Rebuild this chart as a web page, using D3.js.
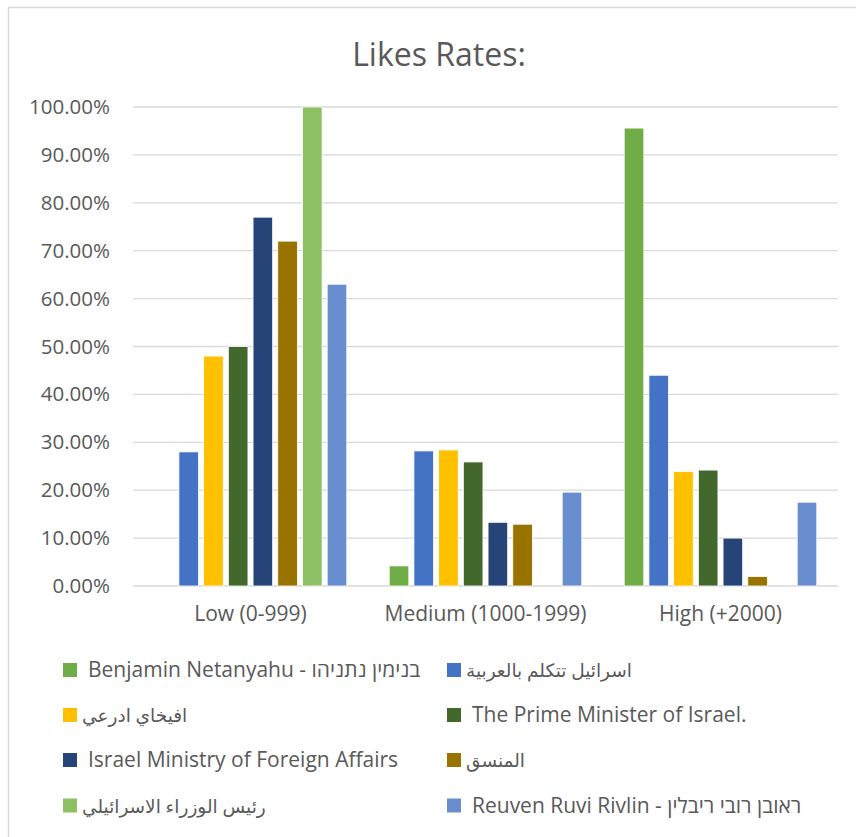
<!DOCTYPE html>
<html>
	<head>
		<meta charset="utf-8">
		<title>Likes Rates</title>
		<style>
			body { margin: 0; background: #fff; }
			text { font-family: "Open Sans", "DejaVu Sans", sans-serif; fill: #595959; }
		</style>
	</head>
	<body>
		<div id="chart"></div>
		<script src="https://d3js.org/d3.v7.min.js"></script>
		<script>
	// categories and series
	var categories = ["Low (0-999)", "Medium (1000-1999)", "High (+2000)"];
	var seriesNames = [
		"Benjamin Netanyahu - בנימין נתניהו",
		"اسرائيل تتكلم بالعربية",
		"افيخاي ادرعي",
		"The Prime Minister of Israel.",
		"Israel Ministry of Foreign Affairs",
		"المنسق",
		"رئيس الوزراء الاسرائيلي",
		"Reuven Ruvi Rivlin - ראובן רובי ריבלין"
	];
	var seriesColors = ["#70ad47", "#4472c4", "#ffc000", "#43682b", "#264478", "#997300", "#8dc063", "#698ed0"];

	// values per series, one per category (fraction)
	var netanyahu = [0, 0.042, 0.956];
	var israelArabic = [0.28, 0.282, 0.44];
	var avichay = [0.48, 0.284, 0.239];
	var primeMinister = [0.50, 0.259, 0.242];
	var ministry = [0.77, 0.133, 0.10];
	var munassiq = [0.72, 0.129, 0.02];
	var pmArabic = [1.00, 0, 0];
	var rivlin = [0.63, 0.196, 0.175];
	var values = [netanyahu, israelArabic, avichay, primeMinister, ministry, munassiq, pmArabic, rivlin];

	var yTicks = [0, 0.1, 0.2, 0.3, 0.4, 0.5, 0.6, 0.7, 0.8, 0.9, 1.0];

	var w = 856;
	var h = 837;
	var svg = d3.select("#chart")
				.append("svg")
				.attr("width", w)
				.attr("height", h);

	// chart border
	svg.append("rect")
		.attr("x", 8.5)
		.attr("y", 7.5)
		.attr("width", 900)
		.attr("height", 900)
		.style("fill", "none")
		.style("stroke", "#d9d9d9")
		.style("stroke-width", 1.5);

	// title
	svg.append("text")
		.attr("x", 439)
		.attr("y", 66)
		.attr("text-anchor", "middle")
		.style("font-size", "32px")
		.text("Likes Rates:");

	var x0 = d3.scaleBand().domain(categories).range([133, 838]);
	var x1 = d3.scaleBand()
		.domain(d3.range(seriesNames.length))
		.range([0, x0.bandwidth()])
		.paddingInner(0.206)
		.paddingOuter(0.858);
	var y = d3.scaleLinear().domain([0, 1]).range([586, 107]);

	// gridlines
	svg.append("g")
		.selectAll("line")
		.data(yTicks)
		.enter()
		.append("line")
		.attr("x1", 133)
		.attr("x2", 838)
		.attr("y1", function(d) { return y(d); })
		.attr("y2", function(d) { return y(d); })
		.style("stroke", "#d9d9d9")
		.style("stroke-width", 1.3);

	// y axis labels
	var yAxis = d3.axisLeft(y).tickValues(yTicks).tickFormat(d3.format(".2%")).tickSize(0).tickPadding(23);
	var gy = svg.append("g").attr("transform", "translate(133,0)").call(yAxis);
	gy.select(".domain").remove();
	gy.selectAll("text")
		.style("font-size", "20.5px")
		.style("font-family", null)
		.attr("fill", null);

	// x axis labels
	var xAxis = d3.axisBottom(x0).tickSize(0).tickPadding(20);
	var gx = svg.append("g").attr("transform", "translate(0,586)").call(xAxis);
	gx.select(".domain").remove();
	gx.selectAll("text")
		.style("font-size", "21px")
		.style("font-family", null)
		.attr("fill", null);

	// bars
	var groups = svg.selectAll("g.cat")
		.data(categories)
		.enter()
		.append("g")
		.attr("class", "cat")
		.attr("transform", function(d) { return "translate(" + x0(d) + ",0)"; });

	groups.selectAll("rect")
		.data(function(d, ci) {
			return values.map(function(v, si) { return { s: si, v: v[ci] }; });
		})
		.enter()
		.append("rect")
		.filter(function(d) { return d.v > 0; })
		.attr("x", function(d) { return x1(d.s); })
		.attr("y", function(d) { return y(d.v); })
		.attr("width", x1.bandwidth())
		.attr("height", function(d) { return y(0) - y(d.v); })
		.style("fill", function(d) { return seriesColors[d.s]; })
		.style("stroke", "#fff")
		.style("stroke-width", 0.8);

	// legend, two columns
	var legendX = [63, 447];
	var legendY = [670, 715, 760, 805.5];
	var isArabic = /^[\u0600-\u06FF]/;
	var legend = svg.selectAll("g.legend")
		.data(seriesNames)
		.enter()
		.append("g")
		.attr("class", "legend")
		.attr("transform", function(d, i) {
			return "translate(" + legendX[i % 2] + "," + legendY[Math.floor(i / 2)] + ")";
		});
	legend.append("rect")
		.attr("x", 0)
		.attr("y", -7)
		.attr("width", 14)
		.attr("height", 14)
		.style("fill", function(d, i) { return seriesColors[i]; });
	legend.append("text")
		.attr("x", function(d) { return isArabic.test(d) ? 19 : 25; })
		.attr("y", 7)
		.style("font-size", function(d) { return isArabic.test(d) ? "18.5px" : "21px"; })
		.text(function(d) { return d; });
		</script>
	</body>
</html>
